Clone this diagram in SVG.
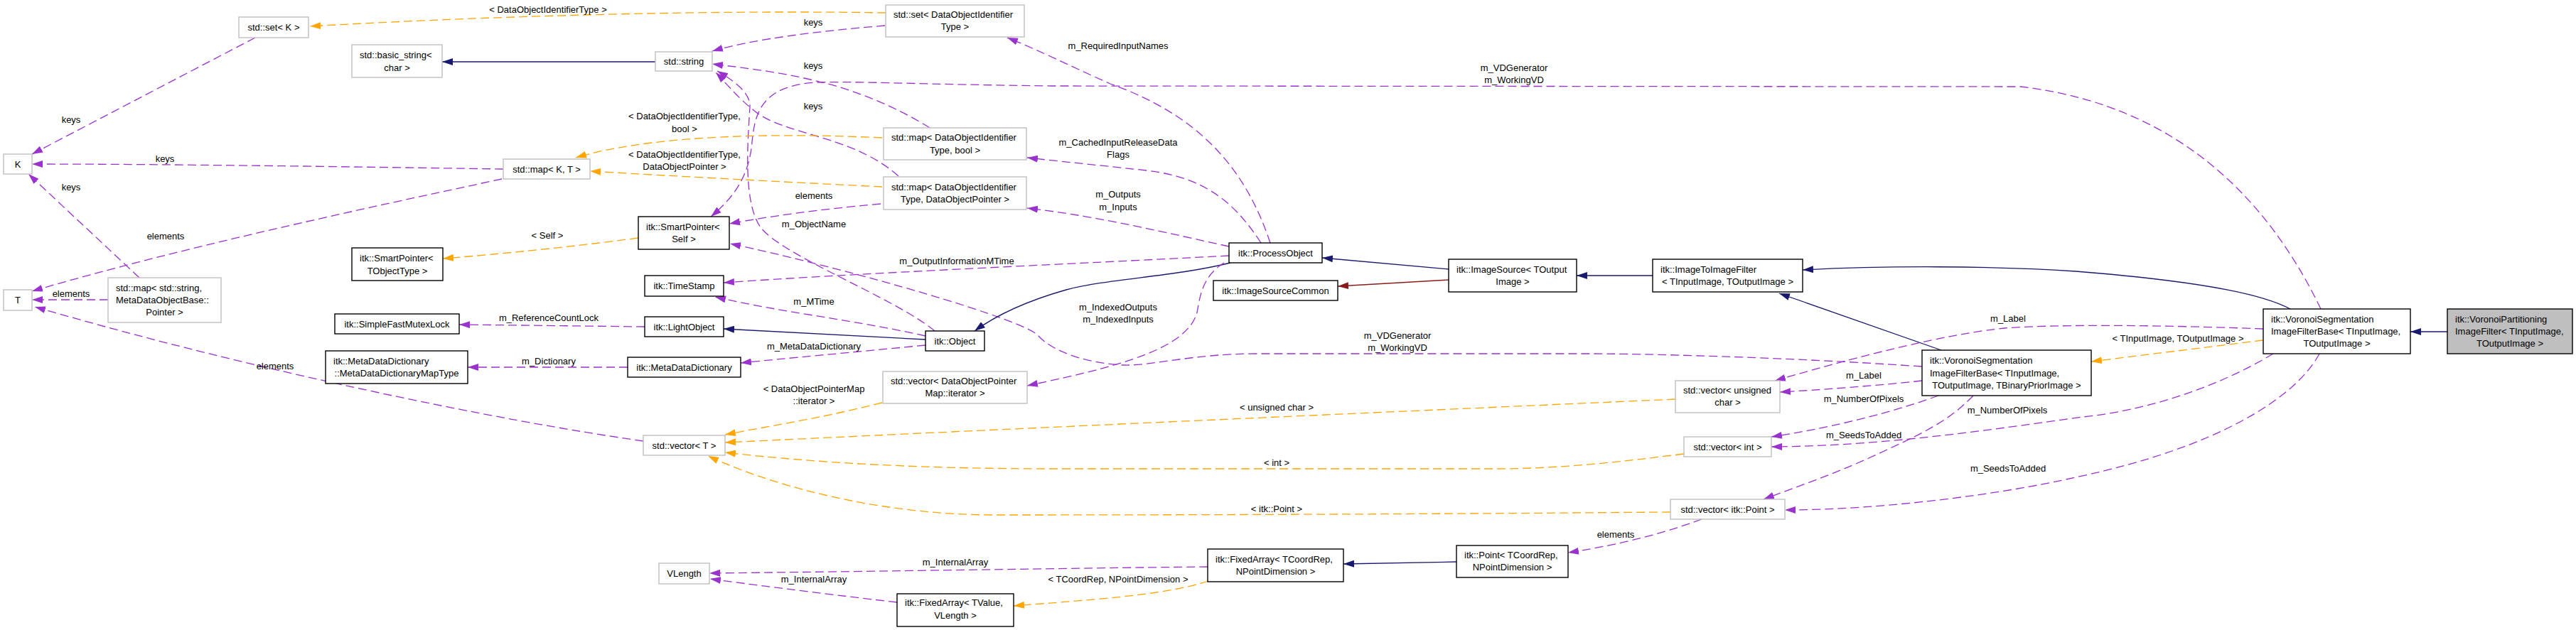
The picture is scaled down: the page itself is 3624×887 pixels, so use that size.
<svg xmlns="http://www.w3.org/2000/svg" width="3624" height="887" viewBox="0 0 3624 887">
<defs>
<style>
text{font-family:"Liberation Sans",Arial,sans-serif;font-size:13px;fill:#000}
.c{text-anchor:middle}
.node rect{fill:#fff;stroke:#000;stroke-width:1.4}
.node.g rect{stroke:#bfbfbf}
.node.sel rect{fill:#bfbfbf}
.e{fill:none;stroke-width:1.3}
.pu{stroke:#9a32cd;stroke-dasharray:12,6;marker-end:url(#mp)}
.or{stroke:#ffa500;stroke-dasharray:12,6;marker-end:url(#mo)}
.bl{stroke:#191970;marker-end:url(#mb)}
.rd{stroke:#8b1a1a;marker-end:url(#mr)}
</style>
<marker id="mp" markerUnits="userSpaceOnUse" viewBox="0 0 15 10" markerWidth="15" markerHeight="10" refX="15" refY="5" orient="auto"><path d="M0,0L15,5L0,10z" fill="#9a32cd"/></marker>
<marker id="mo" markerUnits="userSpaceOnUse" viewBox="0 0 15 10" markerWidth="15" markerHeight="10" refX="15" refY="5" orient="auto"><path d="M0,0L15,5L0,10z" fill="#ffa500"/></marker>
<marker id="mb" markerUnits="userSpaceOnUse" viewBox="0 0 15 10" markerWidth="15" markerHeight="10" refX="15" refY="5" orient="auto"><path d="M0,0L15,5L0,10z" fill="#191970"/></marker>
<marker id="mr" markerUnits="userSpaceOnUse" viewBox="0 0 15 10" markerWidth="15" markerHeight="10" refX="15" refY="5" orient="auto"><path d="M0,0L15,5L0,10z" fill="#8b1a1a"/></marker>
</defs>
<rect width="3624" height="887" fill="#fff"/>
<g id="edges">
<path class="e or" d="M1246,18 C1000,14 700,22 436,37"/>
<path class="e bl" d="M922,87 L622,87"/>
<path class="e pu" d="M359,53 L45,217"/>
<path class="e pu" d="M708,238 C500,235 250,231 45,231"/>
<path class="e pu" d="M706,252 C500,296 250,350 45,410"/>
<path class="e pu" d="M196,391 L40,245"/>
<path class="e pu" d="M152,422 L45,422"/>
<path class="e pu" d="M905,621 C700,592 350,520 49,432"/>
<path class="e pu" d="M1245,36 C1150,44 1060,55 1002,72"/>
<path class="e pu" d="M1308,180 C1260,150 1200,125 1140,112 C1090,100 1040,95 1002,90"/>
<path class="e pu" d="M1264,248 C1200,190 1100,190 1060,155 C1035,135 1020,115 1007,102"/>
<path class="e pu" d="M1315,466 C1260,420 1100,360 1070,320 C1045,285 1052,200 1055,150 C1056,130 1030,112 1009,100"/>
<path class="e pu" d="M3265,435 C3200,300 3080,150 2843,122 L1480,121 C1300,119 1200,114 1150,116 C1070,120 1062,160 1058,200 C1054,250 1030,280 1000,305"/>
<path class="e pu" d="M1239,287 C1150,295 1080,305 1026,315"/>
<path class="e pu" d="M2704,516 C2500,502 2300,498 2240,498 L1766,498 C1680,498 1620,515 1582,514 C1530,512 1480,495 1460,472 C1440,450 1200,380 1027,343"/>
<path class="e bl" d="M1302,478 L1018,463"/>
<path class="e pu" d="M1302,486 C1200,496 1100,505 1042,511"/>
<path class="e pu" d="M1302,473 C1200,450 1100,440 1006,418"/>
<path class="e pu" d="M907,460 L646,457"/>
<path class="e pu" d="M883,517 L658,517"/>
<path class="e or" d="M898,335 C800,348 700,358 623,364"/>
<path class="e or" d="M1241,194 C1050,185 900,195 810,222"/>
<path class="e or" d="M1241,263 C1100,256 950,248 830,241"/>
<path class="e pu" d="M1787,342 C1750,230 1680,160 1562,118 C1510,95 1460,70 1417,53"/>
<path class="e pu" d="M1774,342 C1740,290 1700,250 1613,240 C1540,232 1480,226 1445,222"/>
<path class="e pu" d="M1729,347 C1650,330 1550,305 1445,293"/>
<path class="e pu" d="M1729,360 C1500,372 1200,385 1018,398"/>
<path class="e bl" d="M1731,370 C1650,390 1560,392 1500,408 C1440,425 1400,445 1371,466"/>
<path class="e pu" d="M1722,370 C1690,390 1688,420 1684,440 C1670,490 1580,515 1445,543"/>
<path class="e bl" d="M2038,379 L1860,363"/>
<path class="e rd" d="M2038,394 L1882,403"/>
<path class="e bl" d="M2325,388 L2218,388"/>
<path class="e bl" d="M2731,493 L2503,413"/>
<path class="e bl" d="M3222,435 C3190,418 3120,398 2920,382 C2800,374 2650,374 2536,380"/>
<path class="e bl" d="M3443,467 L3391,467"/>
<path class="e or" d="M3184,479 L2942,509"/>
<path class="e pu" d="M3184,463 C3050,458 2900,456 2820,462 C2740,470 2620,500 2497,536"/>
<path class="e pu" d="M2704,536 C2640,543 2560,549 2504,552"/>
<path class="e pu" d="M2727,557 C2650,585 2560,605 2492,615"/>
<path class="e pu" d="M3198,498 C3120,545 3020,578 2930,587 C2800,605 2650,628 2492,629"/>
<path class="e pu" d="M2776,557 C2740,595 2700,612 2640,640 C2580,668 2520,688 2481,703"/>
<path class="e pu" d="M3263,498 C3230,560 3120,630 2920,672 C2820,695 2650,718 2511,718"/>
<path class="e or" d="M2357,562 C2000,578 1500,600 1020,623"/>
<path class="e or" d="M2369,639 C2280,650 2200,660 2100,660 L1480,660 C1300,660 1150,652 1020,637"/>
<path class="e or" d="M2350,721 C2200,722 1900,725 1400,725 C1250,725 1100,690 996,642"/>
<path class="e or" d="M1241,567 C1150,590 1080,600 1020,612"/>
<path class="e pu" d="M2394,731 C2330,755 2260,770 2206,778"/>
<path class="e bl" d="M2049,791 L1890,794"/>
<path class="e pu" d="M1699,798 C1500,800 1200,805 998,807"/>
<path class="e or" d="M1700,818 C1640,838 1530,845 1426,853"/>
<path class="e pu" d="M1262,848 C1150,835 1050,822 999,815"/>
</g>
<g id="edge-labels">
<text class="c" x="771" y="17.5">&lt; DataObjectIdentifierType &gt;</text>
<text class="c" x="100" y="172.5">keys</text>
<text class="c" x="232" y="227.5">keys</text>
<text class="c" x="100" y="267.5">keys</text>
<text class="c" x="233" y="336.5">elements</text>
<text class="c" x="100" y="417.5">elements</text>
<text class="c" x="387" y="519.5">elements</text>
<text class="c" x="1144" y="35.5">keys</text>
<text class="c" x="1144" y="96.5">keys</text>
<text class="c" x="1144" y="153.5">keys</text>
<text class="c" x="963" y="167.5">&lt; DataObjectIdentifierType,</text>
<text class="c" x="963" y="185.5">bool &gt;</text>
<text class="c" x="963" y="221.5">&lt; DataObjectIdentifierType,</text>
<text class="c" x="963" y="238.5">DataObjectPointer &gt;</text>
<text class="c" x="1145" y="279.5">elements</text>
<text class="c" x="1145" y="319.5">m_ObjectName</text>
<text class="c" x="770" y="335.5">&lt; Self &gt;</text>
<text class="c" x="1346" y="371.5">m_OutputInformationMTime</text>
<text class="c" x="1145" y="428.5">m_MTime</text>
<text class="c" x="772" y="451.5">m_ReferenceCountLock</text>
<text class="c" x="1145" y="491.5">m_MetaDataDictionary</text>
<text class="c" x="772" y="512.5">m_Dictionary</text>
<text class="c" x="1145" y="551.5">&lt; DataObjectPointerMap</text>
<text class="c" x="1145" y="568.5">::iterator &gt;</text>
<text class="c" x="1344" y="795.5">m_InternalArray</text>
<text class="c" x="1145" y="819.5">m_InternalArray</text>
<text class="c" x="1573" y="68.5">m_RequiredInputNames</text>
<text class="c" x="2130" y="99.5">m_VDGenerator</text>
<text class="c" x="2130" y="116.5">m_WorkingVD</text>
<text class="c" x="1573" y="204.5">m_CachedInputReleaseData</text>
<text class="c" x="1573" y="221.5">Flags</text>
<text class="c" x="1573" y="277.5">m_Outputs</text>
<text class="c" x="1573" y="295.5">m_Inputs</text>
<text class="c" x="1573" y="436.5">m_IndexedOutputs</text>
<text class="c" x="1573" y="453.5">m_IndexedInputs</text>
<text class="c" x="1966" y="476.5">m_VDGenerator</text>
<text class="c" x="1966" y="493.5">m_WorkingVD</text>
<text class="c" x="1796" y="577.5">&lt; unsigned char &gt;</text>
<text class="c" x="1796" y="655.5">&lt; int &gt;</text>
<text class="c" x="1796" y="720.5">&lt; itk::Point &gt;</text>
<text class="c" x="1573" y="819.5">&lt; TCoordRep, NPointDimension &gt;</text>
<text class="c" x="2273" y="756.5">elements</text>
<text class="c" x="2825" y="452.5">m_Label</text>
<text class="c" x="2622" y="532.5">m_Label</text>
<text class="c" x="2622" y="565.5">m_NumberOfPixels</text>
<text class="c" x="2824" y="581.5">m_NumberOfPixels</text>
<text class="c" x="2622" y="616.5">m_SeedsToAdded</text>
<text class="c" x="2825" y="663.5">m_SeedsToAdded</text>
<text class="c" x="3064" y="480.5">&lt; TInputImage, TOutputImage &gt;</text>
</g>
<g id="n_set_K" class="node g"><rect x="336" y="24" width="98" height="29"/><text class="c" x="385" y="43">std::set&lt; K &gt;</text></g>
<g id="n_basic_string" class="node g"><rect x="495" y="63" width="127" height="46"/><text x="506" y="81.5">std::basic_string&lt;</text><text class="c" x="558.5" y="99.5">char &gt;</text></g>
<g id="n_K" class="node g"><rect x="5" y="217" width="40" height="28"/><text class="c" x="25" y="235.5">K</text></g>
<g id="n_T" class="node g"><rect x="5" y="408" width="40" height="29"/><text class="c" x="25" y="427">T</text></g>
<g id="n_map_string_meta" class="node g"><rect x="152" y="391" width="159" height="63"/><text x="163" y="409.5">std::map&lt; std::string,</text><text x="163" y="426.5">MetaDataObjectBase::</text><text class="c" x="231.5" y="443.5">Pointer &gt;</text></g>
<g id="n_smartpointer_tobj" class="node"><rect x="495" y="349" width="128" height="46"/><text x="506" y="367.5">itk::SmartPointer&lt;</text><text class="c" x="559" y="385.5">TObjectType &gt;</text></g>
<g id="n_mutexlock" class="node"><rect x="471" y="442" width="175" height="28"/><text class="c" x="558.5" y="460.5">itk::SimpleFastMutexLock</text></g>
<g id="n_mapType" class="node"><rect x="458" y="494" width="200" height="46"/><text x="469" y="512.5">itk::MetaDataDictionary</text><text class="c" x="558" y="529.5">::MetaDataDictionaryMapType</text></g>
<g id="n_set_doit" class="node g"><rect x="1246" y="7" width="195" height="45"/><text x="1257" y="24.5">std::set&lt; DataObjectIdentifier</text><text class="c" x="1343.5" y="41.5">Type &gt;</text></g>
<g id="n_string" class="node g"><rect x="922" y="73" width="80" height="27"/><text class="c" x="962" y="91">std::string</text></g>
<g id="n_map_KT" class="node g"><rect x="708" y="224" width="122" height="28"/><text class="c" x="769" y="242.5">std::map&lt; K, T &gt;</text></g>
<g id="n_map_doit_bool" class="node g"><rect x="1243" y="180" width="201" height="45"/><text x="1254" y="197.5">std::map&lt; DataObjectIdentifier</text><text class="c" x="1343.5" y="215.5">Type, bool &gt;</text></g>
<g id="n_map_doit_dop" class="node g"><rect x="1243" y="249" width="201" height="46"/><text x="1254" y="267.5">std::map&lt; DataObjectIdentifier</text><text class="c" x="1343.5" y="284.5">Type, DataObjectPointer &gt;</text></g>
<g id="n_smartpointer_self" class="node"><rect x="898" y="305" width="128" height="46"/><text x="909" y="323.5">itk::SmartPointer&lt;</text><text class="c" x="962" y="340.5">Self &gt;</text></g>
<g id="n_timestamp" class="node"><rect x="907" y="388" width="111" height="29"/><text class="c" x="962.5" y="407">itk::TimeStamp</text></g>
<g id="n_lightobject" class="node"><rect x="907" y="446" width="111" height="28"/><text class="c" x="962.5" y="464.5">itk::LightObject</text></g>
<g id="n_object" class="node"><rect x="1302" y="466" width="83" height="28"/><text class="c" x="1343.5" y="484.5">itk::Object</text></g>
<g id="n_metadatadict" class="node"><rect x="883" y="503" width="159" height="28"/><text class="c" x="962.5" y="521.5">itk::MetaDataDictionary</text></g>
<g id="n_vector_dopm" class="node g"><rect x="1242" y="523" width="203" height="45"/><text x="1253" y="540.5">std::vector&lt; DataObjectPointer</text><text class="c" x="1343.5" y="557.5">Map::iterator &gt;</text></g>
<g id="n_vector_T" class="node g"><rect x="905" y="613" width="115" height="28"/><text class="c" x="962.5" y="631.5">std::vector&lt; T &gt;</text></g>
<g id="n_vlength" class="node g"><rect x="927" y="793" width="71" height="29"/><text class="c" x="962.5" y="812">VLength</text></g>
<g id="n_fixedarray_tvalue" class="node"><rect x="1262" y="836" width="164" height="46"/><text x="1273" y="852.5">itk::FixedArray&lt; TValue,</text><text class="c" x="1344" y="870.5">VLength &gt;</text></g>
<g id="n_processobject" class="node"><rect x="1729" y="342" width="131" height="28"/><text class="c" x="1794.5" y="360.5">itk::ProcessObject</text></g>
<g id="n_imagesourcecommon" class="node"><rect x="1707" y="395" width="175" height="28"/><text class="c" x="1794.5" y="413.5">itk::ImageSourceCommon</text></g>
<g id="n_imagesource" class="node"><rect x="2038" y="365" width="180" height="46"/><text x="2049" y="383.5">itk::ImageSource&lt; TOutput</text><text class="c" x="2128" y="400.5">Image &gt;</text></g>
<g id="n_fixedarray_tcoord" class="node"><rect x="1699" y="773" width="191" height="46"/><text x="1710" y="791.5">itk::FixedArray&lt; TCoordRep,</text><text class="c" x="1794.5" y="808.5">NPointDimension &gt;</text></g>
<g id="n_point" class="node"><rect x="2049" y="768" width="157" height="45"/><text x="2060" y="785.5">itk::Point&lt; TCoordRep,</text><text class="c" x="2127.5" y="802.5">NPointDimension &gt;</text></g>
<g id="n_imagetoimage" class="node"><rect x="2325" y="365" width="211" height="46"/><text x="2336" y="383.5">itk::ImageToImageFilter</text><text class="c" x="2430.5" y="400.5">&lt; TInputImage, TOutputImage &gt;</text></g>
<g id="n_vector_uchar" class="node g"><rect x="2357" y="536" width="147" height="45"/><text x="2368" y="553.5">std::vector&lt; unsigned</text><text class="c" x="2430.5" y="571">char &gt;</text></g>
<g id="n_vector_int" class="node g"><rect x="2369" y="615" width="123" height="28"/><text class="c" x="2430.5" y="633.5">std::vector&lt; int &gt;</text></g>
<g id="n_vector_point" class="node g"><rect x="2350" y="703" width="161" height="28"/><text class="c" x="2430.5" y="721.5">std::vector&lt; itk::Point &gt;</text></g>
<g id="n_voronoi_base3" class="node"><rect x="2704" y="493" width="238" height="64"/><text x="2715" y="511.5">itk::VoronoiSegmentation</text><text x="2715" y="529.5">ImageFilterBase&lt; TInputImage,</text><text class="c" x="2823" y="546.5">TOutputImage, TBinaryPriorImage &gt;</text></g>
<g id="n_voronoi_base2" class="node"><rect x="3184" y="435" width="207" height="63"/><text x="3195" y="453.5">itk::VoronoiSegmentation</text><text x="3195" y="470.5">ImageFilterBase&lt; TInputImage,</text><text class="c" x="3287.5" y="487.5">TOutputImage &gt;</text></g>
<g id="n_voronoi_partitioning" class="node sel"><rect x="3443" y="435" width="176" height="63"/><text x="3454" y="453.5">itk::VoronoiPartitioning</text><text x="3454" y="470.5">ImageFilter&lt; TInputImage,</text><text class="c" x="3531" y="487.5">TOutputImage &gt;</text></g>
</svg>
